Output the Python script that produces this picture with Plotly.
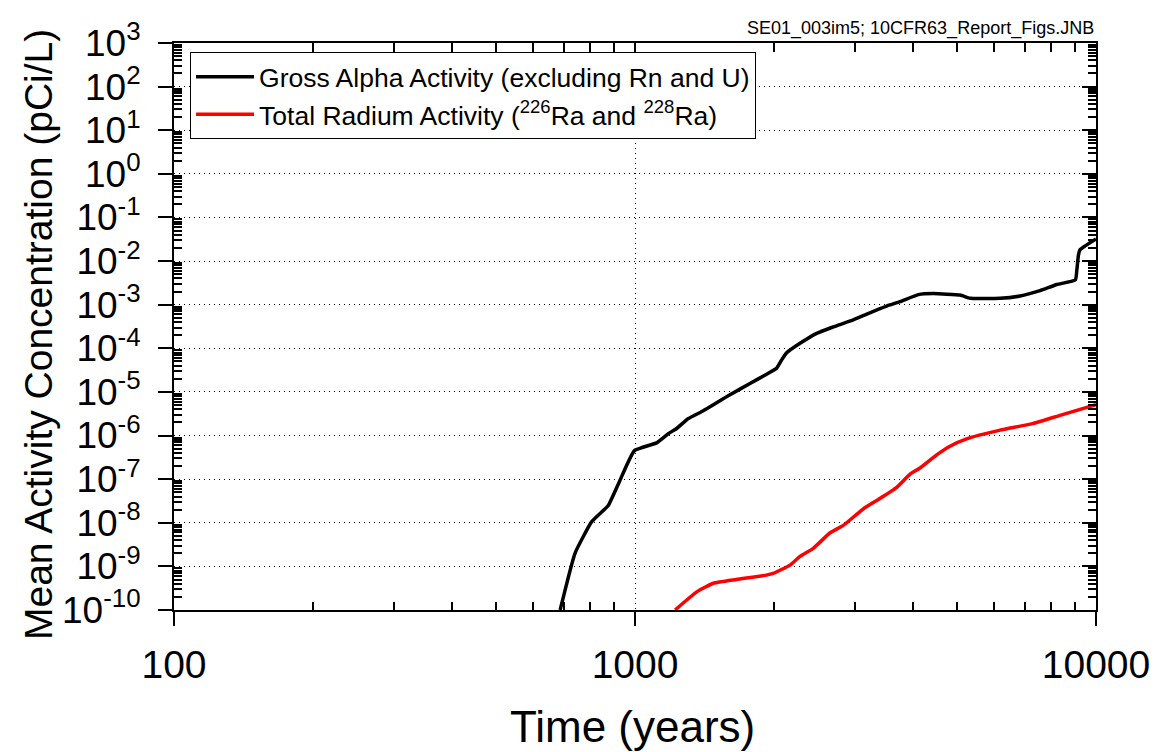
import plotly.graph_objects as go

# ---- data ----
alpha_t = [688, 741, 805, 875, 928, 997, 1114, 1181, 1231, 1305, 1400, 1600, 1776,
           1930, 2028, 2080, 2133, 2280, 2478, 2694, 2975, 3183, 3515, 3757, 4118,
           4439, 5072, 5333, 6194, 6843, 7563, 8223, 9020, 9087, 9160, 9225, 9460, 10000]
alpha_v = [1e-10, 2.0e-9, 1.05e-8, 2.5e-8, 9.5e-8, 4.5e-7, 6.8e-7, 1.1e-6, 1.45e-6, 2.45e-6,
           3.6e-6, 8.4e-6, 1.56e-5, 2.55e-5, 3.5e-5, 5.4e-5, 7.9e-5, 1.3e-4, 2.2e-4, 3.1e-4,
           4.5e-4, 6.1e-4, 9.3e-4, 1.17e-3, 1.7e-3, 1.8e-3, 1.66e-3, 1.4e-3, 1.4e-3, 1.58e-3,
           2.1e-3, 2.9e-3, 3.7e-3, 6.2e-3, 1.37e-2, 1.8e-2, 2.2e-2, 3.2e-2]

radium_t = [1222, 1361, 1479, 1660, 1928, 1993, 2169, 2280, 2437, 2650, 2831, 3131, 3398,
            3696, 3951, 4153, 4512, 4822, 5240, 6194, 7314, 8354, 10000]
radium_v = [1e-10, 2.6e-10, 4.1e-10, 5e-10, 6.3e-10, 6.9e-10, 1.07e-9, 1.7e-9, 2.6e-9,
            5.9e-9, 8.7e-9, 2.1e-8, 3.6e-8, 6.5e-8, 1.3e-7, 1.8e-7, 3.6e-7, 5.7e-7, 8.4e-7,
            1.33e-6, 1.9e-6, 2.9e-6, 5.1e-6]

x_ticks = [100, 1000, 10000]
x_ticktext = ["100", "1000", "10000"]
y_exponents = list(range(-10, 4))
y_ticks = [10.0 ** e for e in y_exponents]
y_ticktext = ["10<sup>%d</sup>" % e for e in y_exponents]

series_names = ["Gross Alpha Activity (excluding Rn and U)",
                "Total Radium Activity (<sup>226</sup>Ra and <sup>228</sup>Ra)"]

x_minor = [m * 10 ** d for d in (2, 3) for m in range(2, 10)]
y_minor = [m * 10.0 ** d for d in range(-10, 3) for m in range(2, 10)]

FONT = "Liberation Sans, Arial, sans-serif"
GRIDDASH = "1px,4px"

fig = go.Figure()
fig.add_trace(go.Scatter(x=alpha_t, y=alpha_v, mode="lines", name=series_names[0],
                         line=dict(color="black", width=3.5, shape="spline", smoothing=0.4)))
fig.add_trace(go.Scatter(x=radium_t, y=radium_v, mode="lines", name=series_names[1],
                         line=dict(color="#ff0000", width=3.5, shape="spline", smoothing=0.4)))
# invisible trace for mirrored frame axes
fig.add_trace(go.Scatter(x=[100, 10000], y=[1e-10, 1e3], xaxis="x2", yaxis="y2",
                         mode="lines", line=dict(width=0), opacity=0,
                         showlegend=False, hoverinfo="skip"))

fig.update_layout(
    width=1169, height=752,
    margin=dict(l=174, r=73, t=43, b=142),
    paper_bgcolor="white", plot_bgcolor="white",
    font=dict(family=FONT, color="black"),
    showlegend=True,
    legend=dict(x=0.0174, y=0.984, xanchor="left", yanchor="top",
                bordercolor="black", borderwidth=1, bgcolor="white",
                font=dict(size=26.5, family=FONT, color="black"),
                itemwidth=58, tracegroupgap=0),
    xaxis=dict(type="log", range=[2, 4], tickvals=x_ticks, ticktext=x_ticktext,
               ticks="outside", ticklen=14, tickwidth=2, tickcolor="black",
               showline=True, linewidth=2, linecolor="black",
               showgrid=True, gridcolor="black", gridwidth=1, griddash=GRIDDASH,
               zeroline=False, tickfont=dict(size=39, family=FONT),
               ticklabelstandoff=5,
               minor=dict(tickvals=x_minor, ticks="inside", ticklen=8, tickwidth=1.5,
                          tickcolor="black", showgrid=False)),
    yaxis=dict(type="log", range=[-10, 3], tickvals=y_ticks, ticktext=y_ticktext,
               ticks="outside", ticklen=14, tickwidth=2, tickcolor="black",
               showline=True, linewidth=2, linecolor="black",
               showgrid=True, gridcolor="black", gridwidth=1, griddash=GRIDDASH,
               zeroline=False, tickfont=dict(size=37, family=FONT),
               ticklabelstandoff=10,
               minor=dict(tickvals=y_minor, ticks="inside", ticklen=8, tickwidth=1.5,
                          tickcolor="black", showgrid=False)),
    xaxis2=dict(type="log", range=[2, 4], overlaying="x", side="top", anchor="y",
                tickvals=x_ticks + x_minor, ticks="inside", ticklen=9, tickwidth=1.5,
                tickcolor="black", showticklabels=False, showline=True, linewidth=2,
                linecolor="black", showgrid=False, zeroline=False),
    yaxis2=dict(type="log", range=[-10, 3], overlaying="y", side="right", anchor="x",
                tickvals=y_ticks, ticks="inside", ticklen=14, tickwidth=2,
                tickcolor="black", showticklabels=False, showline=True, linewidth=2,
                linecolor="black", showgrid=False, zeroline=False,
                minor=dict(tickvals=y_minor, ticks="inside", ticklen=8, tickwidth=1.5,
                           tickcolor="black", showgrid=False)),
    annotations=[
        dict(text="Time (years)", xref="paper", yref="paper", x=0.497, y=-0.206,
             xanchor="center", yanchor="middle", showarrow=False,
             font=dict(size=44, family=FONT)),
        dict(text="Mean Activity Concentration (pCi/L)", xref="paper", yref="paper",
             x=-0.1475, y=0.485, xanchor="center", yanchor="middle", textangle=-90,
             showarrow=False, font=dict(size=39, family=FONT)),
        dict(text="SE01_003im5; 10CFR63_Report_Figs.JNB", xref="paper", yref="paper",
             x=1.0, y=1.0, xanchor="right", yanchor="bottom", yshift=2, showarrow=False,
             font=dict(size=18, family=FONT)),
    ],
)

fig.write_html("out.html")
